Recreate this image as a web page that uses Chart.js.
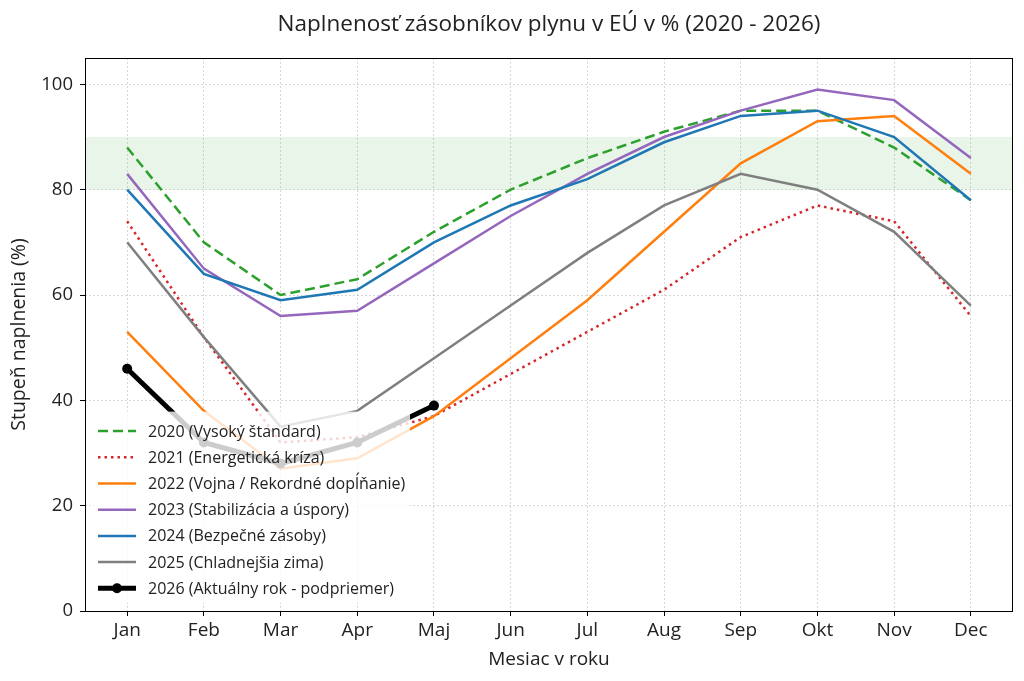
<!DOCTYPE html>
<html>
<head>
<meta charset="utf-8">
<script src="https://cdn.jsdelivr.net/npm/chart.js@4"></script>
<style>
  html, body { margin: 0; padding: 0; background: #fff; }
  #wrap { width: 1024px; height: 681px; }
</style>
</head>
<body>
<div id="wrap"><canvas id="myChart" width="1024" height="681"></canvas></div>
<script>
const months = ['Jan', 'Feb', 'Mar', 'Apr', 'Maj', 'Jun', 'Jul', 'Aug', 'Sep', 'Okt', 'Nov', 'Dec'];
const yTicks = [0, 20, 40, 60, 80, 100];

const y2020 = [88, 70, 60, 63, 72, 80, 86, 91, 95, 95, 88, 78];
const y2021 = [74, 52, 32, 33, 37, 45, 53, 61, 71, 77, 74, 56];
const y2022 = [53, 38, 27, 29, 37, 48, 59, 72, 85, 93, 94, 83];
const y2023 = [83, 65, 56, 57, 66, 75, 83, 90, 95, 99, 97, 86];
const y2024 = [80, 64, 59, 61, 70, 77, 82, 89, 94, 95, 90, 78];
const y2025 = [70, 52, 35, 38, 48, 58, 68, 77, 83, 80, 72, 58];
const y2026 = [46, 32, 28, 32, 39];

const targetBand = [80, 90];

const FONT = '"Open Sans", Roboto, sans-serif';

function pts(arr) {
    return arr.map((v, i) => ({ x: i, y: v }));
}

const series = [
    { label: '2020 (Vysoký štandard)', data: y2020, color: '#2ca02c', width: 2.5, dash: [10, 5] },
    { label: '2021 (Energetická kríza)', data: y2021, color: '#d62728', width: 2.5, dash: [2.5, 4] },
    { label: '2022 (Vojna / Rekordné dopĺňanie)', data: y2022, color: '#ff7f0e', width: 2.5, dash: [] },
    { label: '2023 (Stabilizácia a úspory)', data: y2023, color: '#9467bd', width: 2.5, dash: [] },
    { label: '2024 (Bezpečné zásoby)', data: y2024, color: '#1f77b4', width: 2.5, dash: [] },
    { label: '2025 (Chladnejšia zima)', data: y2025, color: '#7f7f7f', width: 2.5, dash: [] },
    { label: '2026 (Aktuálny rok - podpriemer)', data: y2026, color: '#000000', width: 5, dash: [], marker: true }
];

const datasets = series.map((s, i) => ({
    label: s.label,
    data: pts(s.data),
    borderColor: s.color,
    backgroundColor: s.color,
    borderWidth: s.width,
    borderDash: s.dash,
    borderCapStyle: 'butt',
    pointRadius: s.marker ? 5 : 0,
    pointBackgroundColor: s.color,
    pointBorderWidth: 0,
    tension: 0,
    fill: false,
    order: series.length - 1 - i
}));

// green target band 80-90 %
const bandPlugin = {
    id: 'band',
    beforeDatasetsDraw(chart) {
        const { ctx, chartArea, scales } = chart;
        const top = scales.y.getPixelForValue(targetBand[1]);
        const bot = scales.y.getPixelForValue(targetBand[0]);
        ctx.save();
        ctx.fillStyle = 'rgba(44, 160, 44, 0.1)';
        ctx.fillRect(chartArea.left, top, chartArea.right - chartArea.left, bot - top);
        ctx.restore();
    }
};

// legend drawn on top of the lines (inside plot, lower left) + frame
const overlayPlugin = {
    id: 'overlay',
    afterDatasetsDraw(chart) {
        const { ctx, chartArea } = chart;
        const rowH = 26.2;
        const boxX = chartArea.left + 5;
        const boxW = 320;
        const boxH = rowH * series.length + 8;
        const boxY = chartArea.bottom - 8 - boxH;

        ctx.save();
        ctx.fillStyle = 'rgba(255, 255, 255, 0.8)';
        ctx.fillRect(boxX, boxY, boxW, boxH);

        ctx.font = '16px ' + FONT;
        ctx.textBaseline = 'middle';
        ctx.textAlign = 'left';
        series.forEach((s, i) => {
            const y = boxY + 19.5 + i * rowH;
            const x0 = boxX + 8, x1 = boxX + 46;
            ctx.strokeStyle = s.color;
            ctx.lineWidth = s.width;
            ctx.setLineDash(s.dash);
            ctx.lineCap = 'butt';
            ctx.beginPath();
            ctx.moveTo(x0, y);
            ctx.lineTo(x1, y);
            ctx.stroke();
            ctx.setLineDash([]);
            if (s.marker) {
                ctx.fillStyle = s.color;
                ctx.beginPath();
                ctx.arc((x0 + x1) / 2, y, 5, 0, Math.PI * 2);
                ctx.fill();
            }
            ctx.fillStyle = '#222';
            ctx.fillText(s.label, boxX + 58, y + 1);
        });

        ctx.strokeStyle = '#000';
        ctx.lineWidth = 1;
        ctx.strokeRect(chartArea.left + 0.5, chartArea.top + 0.5,
            chartArea.right - chartArea.left - 1, chartArea.bottom - chartArea.top);
        ctx.restore();
    }
};

const config = {
    type: 'line',
    data: { datasets: datasets },
    options: {
        responsive: false,
        animation: false,
        layout: { padding: { left: 0, right: 11, top: 0, bottom: 0 } },
        plugins: {
            legend: { display: false },
            tooltip: { enabled: false },
            title: {
                display: true,
                text: 'Naplnenosť zásobníkov plynu v EÚ v % (2020 - 2026)',
                fullSize: false,
                color: '#222',
                font: { family: FONT, size: 22.5, weight: 'normal' },
                padding: { top: 11, bottom: 20 }
            }
        },
        scales: {
            x: {
                type: 'linear',
                min: -0.55,
                max: 11.55,
                afterBuildTicks: s => { s.ticks = months.map((m, i) => ({ value: i })); },
                afterFit: s => { s.height = 70; },
                ticks: {
                    callback: v => months[v],
                    color: '#222',
                    font: { family: FONT, size: 19 },
                    padding: 3,
                    maxRotation: 0,
                    autoSkip: false
                },
                grid: { color: 'rgba(0,0,0,0.16)', tickColor: '#000', tickLength: 5, lineWidth: 1 },
                border: { display: false, dash: [2, 2] },
                title: {
                    display: true,
                    text: 'Mesiac v roku',
                    color: '#222',
                    font: { family: FONT, size: 19 },
                    padding: { top: 0, bottom: 10 }
                }
            },
            y: {
                min: 0,
                max: 105,
                afterBuildTicks: s => { s.ticks = yTicks.map(v => ({ value: v })); },
                afterFit: s => { s.width = 85; },
                ticks: {
                    color: '#222',
                    font: { family: FONT, size: 18.5 },
                    padding: 7
                },
                grid: { color: 'rgba(0,0,0,0.16)', tickColor: '#000', tickLength: 5, lineWidth: 1 },
                border: { display: false, dash: [2, 2] },
                title: {
                    display: true,
                    text: 'Stupeň naplnenia (%)',
                    color: '#222',
                    font: { family: FONT, size: 19.5 },
                    padding: { top: 8, bottom: 0 }
                }
            }
        }
    },
    plugins: [bandPlugin, overlayPlugin]
};

const myChart = new Chart(document.getElementById('myChart'), config);
</script>
</body>
</html>
